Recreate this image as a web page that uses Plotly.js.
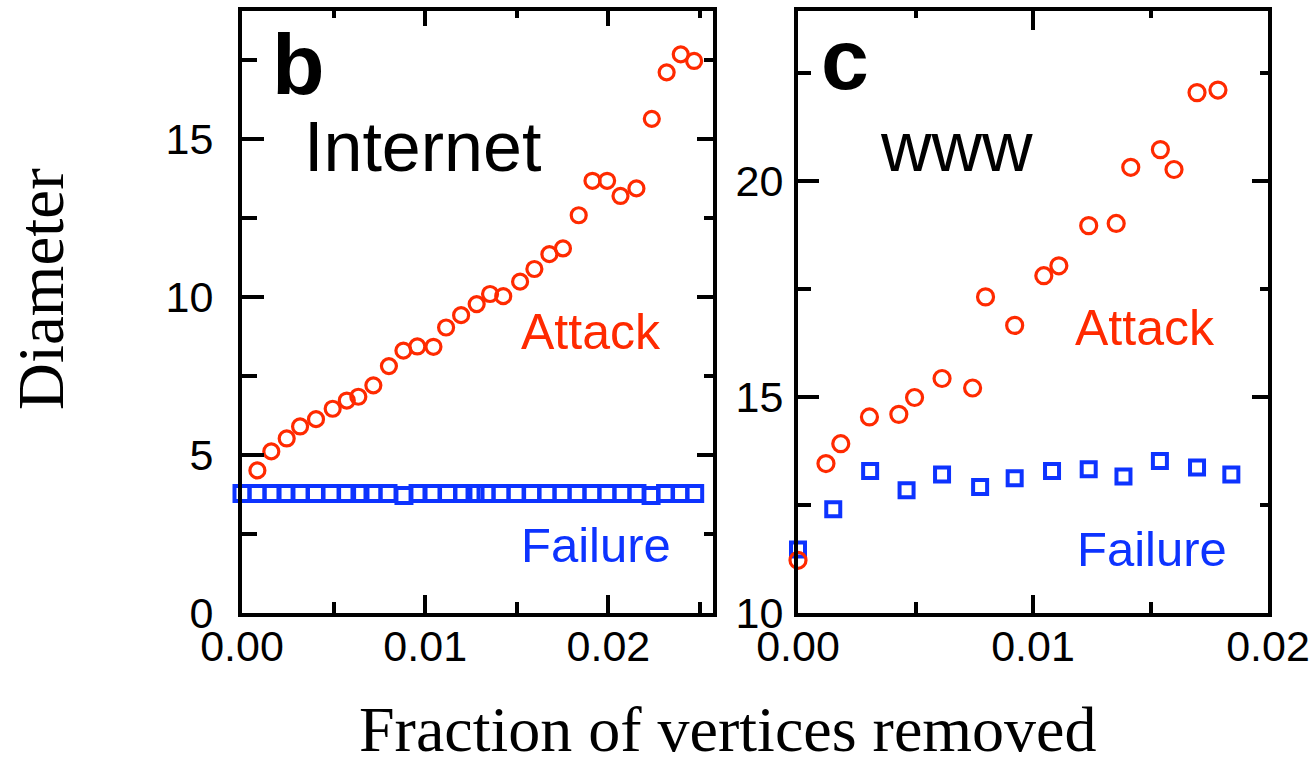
<!DOCTYPE html>
<html>
<head>
<meta charset="utf-8">
<script src="https://cdn.plot.ly/plotly-3.0.1.min.js"></script>
<style>
  html, body { margin: 0; padding: 0; background: #ffffff; }
  #chart { width: 1311px; height: 765px; }
</style>
</head>
<body>
<div id="chart"></div>
<script>
// ---- Panel b: Internet ----
const internetAttackX = [0.00084, 0.0016, 0.00244, 0.00317, 0.00404, 0.00495, 0.00572, 0.00635, 0.00717, 0.00802,
  0.00881, 0.00957, 0.01045, 0.01114, 0.01196, 0.01281, 0.01354, 0.01426, 0.01518, 0.01596,
  0.01678, 0.01752, 0.01838, 0.01913, 0.01993, 0.02066, 0.02153, 0.02237, 0.02318, 0.02395, 0.02468];
const internetAttackY = [4.51, 5.11, 5.52, 5.90, 6.13, 6.46, 6.72, 6.84, 7.20, 7.81,
  8.30, 8.43, 8.42, 9.03, 9.42, 9.77, 10.09, 10.02, 10.48, 10.88,
  11.35, 11.53, 12.58, 13.67, 13.67, 13.19, 13.43, 15.63, 17.10, 17.67, 17.46];
const internetFailureX = [0, 0.00082, 0.00164, 0.0024, 0.00317, 0.00401, 0.00486, 0.00571, 0.00644, 0.00715,
  0.00797, 0.00884, 0.00961, 0.01037, 0.01122, 0.01206, 0.01272, 0.01332, 0.01414, 0.01496,
  0.01581, 0.01665, 0.01747, 0.01829, 0.0191, 0.01992, 0.02074, 0.02156, 0.02233, 0.02312, 0.02391, 0.02471];
const internetFailureY = [3.78, 3.78, 3.78, 3.78, 3.78, 3.78, 3.78, 3.78, 3.78, 3.78,
  3.78, 3.72, 3.78, 3.78, 3.78, 3.78, 3.78, 3.78, 3.78, 3.78,
  3.78, 3.78, 3.78, 3.78, 3.78, 3.78, 3.78, 3.78, 3.72, 3.78, 3.78, 3.78];

// ---- Panel c: WWW ----
const wwwAttackX = [0, 0.00119, 0.00182, 0.00304, 0.00429, 0.00496, 0.00613, 0.00743, 0.00798, 0.00922,
  0.01046, 0.0111, 0.01237, 0.01354, 0.01416, 0.01542, 0.016, 0.01698, 0.01787];
const wwwAttackY = [11.22, 13.46, 13.92, 14.54, 14.60, 14.99, 15.43, 15.21, 17.32, 16.66,
  17.81, 18.04, 18.97, 19.02, 20.32, 20.73, 20.27, 22.05, 22.11];
const wwwFailureX = [0, 0.0015, 0.00307, 0.00462, 0.00613, 0.00775, 0.00922, 0.01081, 0.01237, 0.01385,
  0.0154, 0.01698, 0.01844];
const wwwFailureY = [11.47, 12.40, 13.29, 12.84, 13.21, 12.92, 13.12, 13.29, 13.33, 13.16,
  13.52, 13.37, 13.21];

// ---- Labels ----
const panelLetters = ['b', 'c'];
const panelNames = ['Internet', 'www'];
const seriesNames = ['Attack', 'Failure'];
const xTitle = 'Fraction of vertices removed';
const yTitle = 'Diameter';

const RED = '#ff2a00';
const BLUE = '#0d33ff';
const W = 1311, H = 765;
const px = v => v / W;
const py = v => 1 - v / H;

const dom1 = [px(242), px(713)];
const dom2 = [px(798), px(1268)];
const domY = [py(613), py(11)];
const rangeX1 = [0, 0.02571];
const rangeX2 = [0, 0.02];
const rangeY1 = [0, 19.04];
const rangeY2 = [10, 23.94];

const traces = [
  { x: internetFailureX, y: internetFailureY, xaxis: 'x', yaxis: 'y', type: 'scatter', mode: 'markers',
    name: seriesNames[1], cliponaxis: false,
    marker: { symbol: 'square-open', size: 15, color: BLUE, line: { width: 4, color: BLUE } } },
  { x: internetAttackX, y: internetAttackY, xaxis: 'x', yaxis: 'y', type: 'scatter', mode: 'markers',
    name: seriesNames[0], cliponaxis: false,
    marker: { symbol: 'circle-open', size: 15, color: RED, line: { width: 3.2, color: RED } } },
  { x: wwwFailureX, y: wwwFailureY, xaxis: 'x2', yaxis: 'y2', type: 'scatter', mode: 'markers',
    name: seriesNames[1], cliponaxis: false,
    marker: { symbol: 'square-open', size: 14, color: BLUE, line: { width: 4, color: BLUE } } },
  { x: wwwAttackX, y: wwwAttackY, xaxis: 'x2', yaxis: 'y2', type: 'scatter', mode: 'markers',
    name: seriesNames[0], cliponaxis: false,
    marker: { symbol: 'circle-open', size: 16, color: RED, line: { width: 3.2, color: RED } } },
  // invisible anchors so that the mirrored frame axes (top/right) are drawn
  { x: [rangeX1[0]], y: [rangeY1[0]], xaxis: 'x3', yaxis: 'y3', type: 'scatter', mode: 'markers',
    hoverinfo: 'skip', marker: { opacity: 0 } },
  { x: [rangeX2[0]], y: [rangeY2[0]], xaxis: 'x4', yaxis: 'y4', type: 'scatter', mode: 'markers',
    hoverinfo: 'skip', marker: { opacity: 0 } }
];

const tickFont = { family: 'Liberation Sans, Arial, sans-serif', size: 43, color: '#000' };
const LW = 4;

function baseAxis(extra) {
  return Object.assign({
    showgrid: false, zeroline: false, showline: true, linecolor: '#000', linewidth: LW,
    ticks: 'inside', tickcolor: '#000', tickwidth: LW, tickfont: tickFont, fixedrange: true
  }, extra);
}
function minorTicks(dtick, tick0, len) {
  return { dtick: dtick, tick0: tick0, ticks: 'inside', ticklen: len, tickwidth: LW, tickcolor: '#000' };
}

const layout = {
  width: W, height: H,
  margin: { l: 0, r: 0, t: 0, b: 0 },
  paper_bgcolor: '#fff', plot_bgcolor: 'rgba(0,0,0,0)',
  showlegend: false,
  xaxis: baseAxis({ domain: dom1, range: rangeX1, anchor: 'y', side: 'bottom',
    tick0: 0, dtick: 0.01, tickformat: '.2f', ticklen: 18, ticklabelstandoff: -8,
    minor: minorTicks(0.005, 0, 11) }),
  xaxis3: baseAxis({ domain: dom1, range: rangeX1, anchor: 'y3', overlaying: 'x', side: 'top',
    tick0: 0, dtick: 0.01, ticklen: 15, showticklabels: false,
    minor: minorTicks(0.005, 0, 7) }),
  yaxis: baseAxis({ domain: domY, range: rangeY1, anchor: 'x', side: 'left',
    tick0: 0, dtick: 5, ticklen: 22, ticklabelstandoff: 16,
    minor: minorTicks(2.5, 0, 15) }),
  yaxis3: baseAxis({ domain: domY, range: rangeY1, anchor: 'x3', overlaying: 'y', side: 'right',
    tick0: 0, dtick: 5, ticklen: 16, showticklabels: false,
    minor: minorTicks(2.5, 0, 9) }),

  xaxis2: baseAxis({ domain: dom2, range: rangeX2, anchor: 'y2', side: 'bottom',
    tick0: 0, dtick: 0.01, tickformat: '.2f', ticklen: 18, ticklabelstandoff: -8,
    minor: minorTicks(0.005, 0, 11) }),
  xaxis4: baseAxis({ domain: dom2, range: rangeX2, anchor: 'y4', overlaying: 'x2', side: 'top',
    tick0: 0, dtick: 0.01, ticklen: 19, showticklabels: false,
    minor: minorTicks(0.005, 0, 7) }),
  yaxis2: baseAxis({ domain: domY, range: rangeY2, anchor: 'x2', side: 'left',
    tick0: 10, dtick: 5, ticklen: 21, ticklabelstandoff: 2,
    minor: minorTicks(2.5, 10, 13) }),
  yaxis4: baseAxis({ domain: domY, range: rangeY2, anchor: 'x4', overlaying: 'y2', side: 'right',
    tick0: 10, dtick: 5, ticklen: 16, showticklabels: false,
    minor: minorTicks(2.5, 10, 8) }),

  annotations: [
    { text: panelLetters[0], xref: 'paper', yref: 'paper', x: px(298), y: py(64), xanchor: 'center', yanchor: 'middle',
      showarrow: false, font: { family: 'Liberation Sans, Arial, sans-serif', size: 86, color: '#000', weight: 'bold' } },
    { text: panelLetters[1], xref: 'paper', yref: 'paper', x: px(845), y: py(59), xanchor: 'center', yanchor: 'middle',
      showarrow: false, font: { family: 'Liberation Sans, Arial, sans-serif', size: 86, color: '#000', weight: 'bold' } },
    { text: panelNames[0], xref: 'paper', yref: 'paper', x: px(422), y: py(147), xanchor: 'center', yanchor: 'middle',
      showarrow: false, font: { family: 'Liberation Sans, Arial, sans-serif', size: 70, color: '#000' } },
    { text: panelNames[1], xref: 'paper', yref: 'paper', x: px(956), y: py(147), xanchor: 'center', yanchor: 'middle',
      showarrow: false, font: { family: 'Liberation Sans, Arial, sans-serif', size: 70, color: '#000' } },
    { text: seriesNames[0], xref: 'paper', yref: 'paper', x: px(591), y: py(332), xanchor: 'center', yanchor: 'middle',
      showarrow: false, font: { family: 'Liberation Sans, Arial, sans-serif', size: 50, color: RED } },
    { text: seriesNames[0], xref: 'paper', yref: 'paper', x: px(1145), y: py(328), xanchor: 'center', yanchor: 'middle',
      showarrow: false, font: { family: 'Liberation Sans, Arial, sans-serif', size: 50, color: RED } },
    { text: seriesNames[1], xref: 'paper', yref: 'paper', x: px(596), y: py(545), xanchor: 'center', yanchor: 'middle',
      showarrow: false, font: { family: 'Liberation Sans, Arial, sans-serif', size: 49, color: BLUE } },
    { text: seriesNames[1], xref: 'paper', yref: 'paper', x: px(1152), y: py(549), xanchor: 'center', yanchor: 'middle',
      showarrow: false, font: { family: 'Liberation Sans, Arial, sans-serif', size: 49, color: BLUE } },
    { text: yTitle, xref: 'paper', yref: 'paper', x: px(41), y: py(289), xanchor: 'center', yanchor: 'middle',
      textangle: -90, showarrow: false, font: { family: 'Liberation Serif, Times New Roman, serif', size: 65, color: '#000' } },
    { text: xTitle, xref: 'paper', yref: 'paper', x: px(728), y: py(729), xanchor: 'center', yanchor: 'middle',
      showarrow: false, font: { family: 'Liberation Serif, Times New Roman, serif', size: 64, color: '#000' } }
  ]
};

Plotly.newPlot('chart', traces, layout, { displayModeBar: false, staticPlot: true });
</script>
</body>
</html>
